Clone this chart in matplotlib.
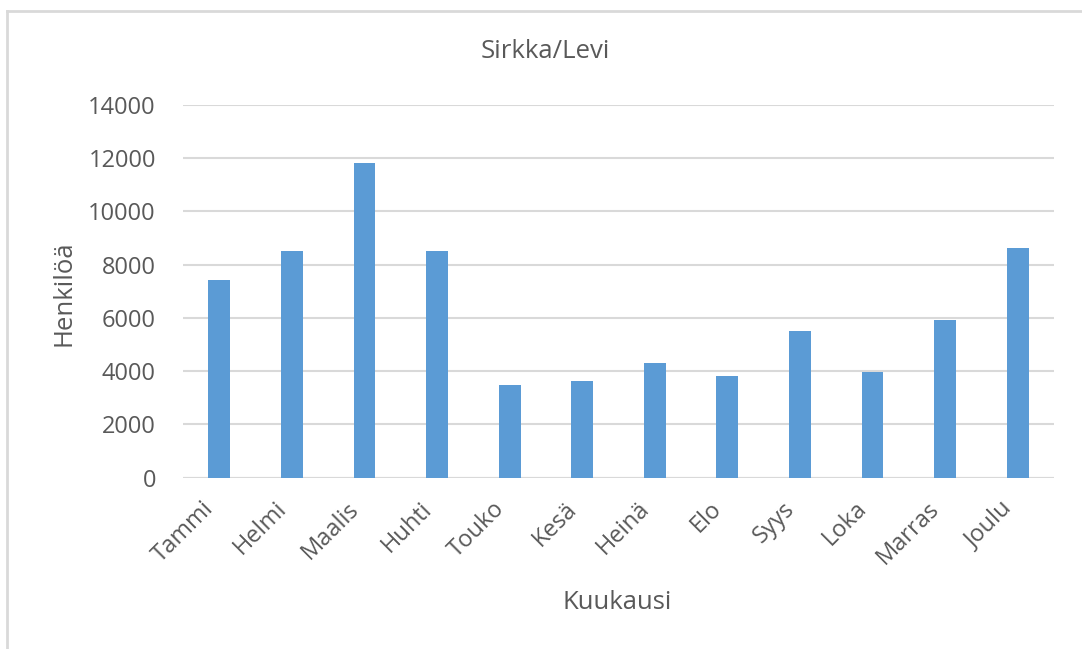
import matplotlib
matplotlib.use("Agg")
import matplotlib.pyplot as plt
from matplotlib.lines import Line2D
from matplotlib.transforms import ScaledTranslation

months = ["Tammi", "Helmi", "Maalis", "Huhti", "Touko", "Kesä",
          "Heinä", "Elo", "Syys", "Loka", "Marras", "Joulu"]
visitors = [7430, 8530, 11830, 8530, 3470, 3640,
            4320, 3820, 5510, 3970, 5920, 8615]
yticks = [0, 2000, 4000, 6000, 8000, 10000, 12000, 14000]

title = "Sirkka/Levi"
xlabel = "Kuukausi"
ylabel = "Henkilöä"

W, H = 1082, 649
plt.rcParams['font.family'] = ['Open Sans', 'DejaVu Sans']
txt = '#595959'
grid = '#d9d9d9'
bar_color = '#5b9bd5'

fig = plt.figure(figsize=(W / 100, H / 100), dpi=100)
ax_l, ax_r, ax_t, ax_b = 183, 1054, 105, 477.7
ax = fig.add_axes([ax_l / W, 1 - ax_b / H, (ax_r - ax_l) / W, (ax_b - ax_t) / H])

x = list(range(len(months)))
ax.bar(x, visitors, width=0.30, color=bar_color, zorder=3)

ax.set_xlim(-0.5, len(months) - 0.5)
ax.set_ylim(0, 14000)
ax.set_yticks(yticks)
ax.set_yticklabels([str(v) for v in yticks])
ax.set_xticks(x)
ax.set_xticklabels(months, rotation=45, ha='right', va='center', rotation_mode='anchor')

for s in ax.spines.values():
    s.set_visible(False)
ax.yaxis.grid(True, color=grid, linewidth=1.5, zorder=0)
ax.set_axisbelow(True)
ax.axhline(0, color=grid, linewidth=1.5, zorder=1)
ax.tick_params(axis='both', length=0, colors=txt, labelsize=17)
ax.tick_params(axis='y', pad=19.5)
ax.tick_params(axis='x', pad=20)
for lab in ax.get_xticklabels():
    lab.set_transform(lab.get_transform() + ScaledTranslation(-9 / 100, 0, fig.dpi_scale_trans))

ax.set_xlabel(xlabel, fontsize=18.5, color=txt)
ax.xaxis.set_label_coords((617 - ax_l) / (ax_r - ax_l), (ax_b - 602.5) / (ax_b - ax_t))
ax.xaxis.label.set_va('center')
ax.set_ylabel(ylabel, fontsize=18.5, color=txt)
ax.yaxis.set_label_coords((64 - ax_l) / (ax_r - ax_l), (ax_b - 293.5) / (ax_b - ax_t))
ax.yaxis.label.set_va('center')

fig.text(545 / W, 1 - 52 / H, title, ha='center', va='center', fontsize=18.5, color=txt)

# outer chart frame (top and left edges visible)
fig.add_artist(Line2D([7 / W, 7 / W], [0, 1 - 11 / H], transform=fig.transFigure,
                      color='#d9d9d9', linewidth=2))
fig.add_artist(Line2D([7 / W, 1], [1 - 11 / H, 1 - 11 / H], transform=fig.transFigure,
                      color='#d9d9d9', linewidth=2))

fig.savefig("out.png", dpi=100, facecolor='white')
